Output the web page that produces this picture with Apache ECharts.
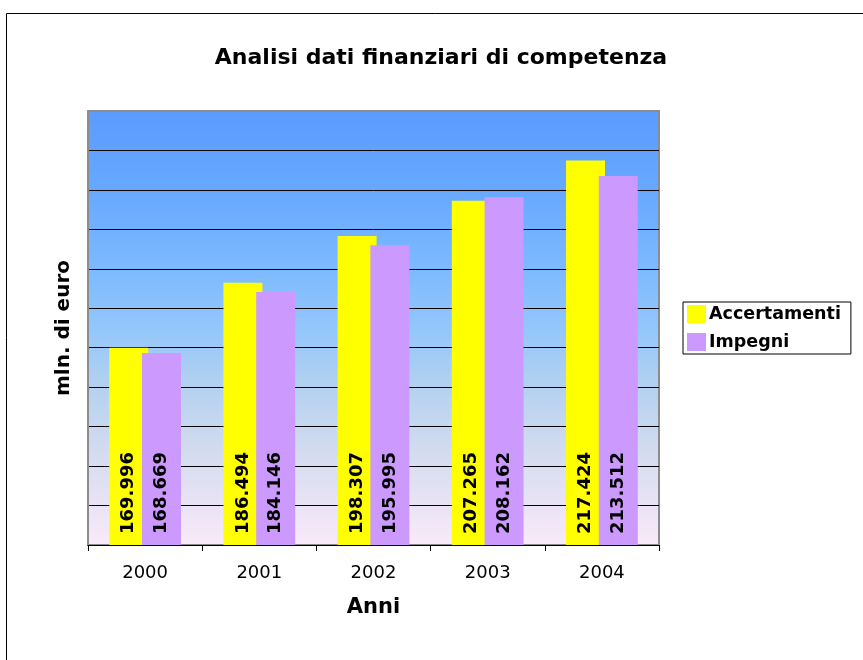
<!DOCTYPE html>
<html>
<head>
<meta charset="utf-8">
<script src="https://cdn.jsdelivr.net/npm/echarts@6/dist/echarts.min.js"></script>
<style>
  html, body { margin: 0; padding: 0; background: #fff; }
  #chart { width: 863px; height: 660px; }
</style>
</head>
<body>
<div id="chart"></div>
<script>
// dati del grafico
const anni = ['2000', '2001', '2002', '2003', '2004'];
const accertamenti = [169.996, 186.494, 198.307, 207.265, 217.424];
const impegni = [168.669, 184.146, 195.995, 208.162, 213.512];
const nomiSerie = ['Accertamenti', 'Impegni'];

const font = 'DejaVu Sans';

let myChart = echarts.init(document.getElementById('chart'));

// etichette verticali dentro le barre
const etichetta = {
  show: true,
  position: 'insideBottom',
  rotate: 90,
  align: 'left',
  verticalAlign: 'middle',
  distance: 11,
  fontFamily: font,
  fontWeight: 'bold',
  fontSize: 18,
  color: '#000',
  formatter: p => p.value.toFixed(3)
};

const option = {
  backgroundColor: '#fff',
  animation: false,
  title: {
    text: 'Analisi dati finanziari di competenza',
    left: 436,
    top: 42,
    textAlign: 'center',
    textStyle: { fontFamily: font, fontWeight: 'bold', fontSize: 22, color: '#000' }
  },
  legend: {
    left: 683,
    top: 302,
    orient: 'vertical',
    data: nomiSerie,
    icon: 'rect',
    itemWidth: 19,
    itemHeight: 18,
    itemGap: 10,
    padding: [3, 10, 3, 4],
    borderColor: '#000',
    borderWidth: 1,
    backgroundColor: '#fff',
    textStyle: { fontFamily: font, fontWeight: 'bold', fontSize: 17.5, color: '#000', padding: [0, 0, 0, -2] }
  },
  grid: {
    left: 88,
    right: 204,
    top: 111,
    bottom: 115,
    show: true,
    borderColor: '#8c8c8c',
    borderWidth: 2,
    backgroundColor: new echarts.graphic.LinearGradient(0, 0, 0, 1, [
      { offset: 0, color: '#5a9bff' },
      { offset: 0.18, color: '#67a8ff' },
      { offset: 0.35, color: '#7bb8ff' },
      { offset: 0.5, color: '#93c6fb' },
      { offset: 0.62, color: '#b0d0f0' },
      { offset: 0.75, color: '#cdd9ef' },
      { offset: 0.87, color: '#e3e1f3' },
      { offset: 1, color: '#f9eaf9' }
    ])
  },
  xAxis: {
    type: 'category',
    data: anni,
    name: 'Anni',
    nameLocation: 'middle',
    nameGap: 52,
    nameTextStyle: { fontFamily: font, fontWeight: 'bold', fontSize: 21, color: '#000' },
    axisLine: { lineStyle: { color: '#000', width: 1 } },
    axisTick: { show: true, length: 6, lineStyle: { color: '#000' } },
    axisLabel: { fontFamily: font, fontSize: 18, color: '#000', margin: 19 }
  },
  yAxis: {
    type: 'value',
    min: 120,
    max: 230,
    interval: 10,
    name: 'mln. di euro',
    nameLocation: 'middle',
    nameGap: 14,
    nameTextStyle: { fontFamily: font, fontWeight: 'bold', fontSize: 20, color: '#000' },
    axisLine: { show: true, lineStyle: { color: '#8c8c8c', width: 2 } },
    axisTick: { show: false },
    axisLabel: { show: false },
    splitLine: { show: true, lineStyle: { color: '#000', width: 1 } }
  },
  series: [
    {
      name: nomiSerie[0],
      type: 'bar',
      data: accertamenti,
      barWidth: 39,
      barGap: '-16%',
      itemStyle: { color: '#ffff00' },
      label: etichetta
    },
    {
      name: nomiSerie[1],
      type: 'bar',
      data: impegni,
      barWidth: 39,
      barGap: '-16%',
      itemStyle: { color: '#cc99ff' },
      label: etichetta
    }
  ],
  graphic: [
    {
      type: 'rect',
      left: 4,
      top: 11,
      shape: { width: 900, height: 700 },
      style: { fill: null, stroke: '#000', lineWidth: 1 },
      silent: true
    },
    {
      // bordo superiore grigio dell'area del grafico
      type: 'rect',
      left: 87,
      top: 110,
      shape: { width: 573, height: 2 },
      style: { fill: '#8c8c8c' },
      silent: true,
      z: 100
    }
  ]
};

myChart.setOption(option);
window.onresize = function() {
  myChart.resize();
};
</script>
</body>
</html>
